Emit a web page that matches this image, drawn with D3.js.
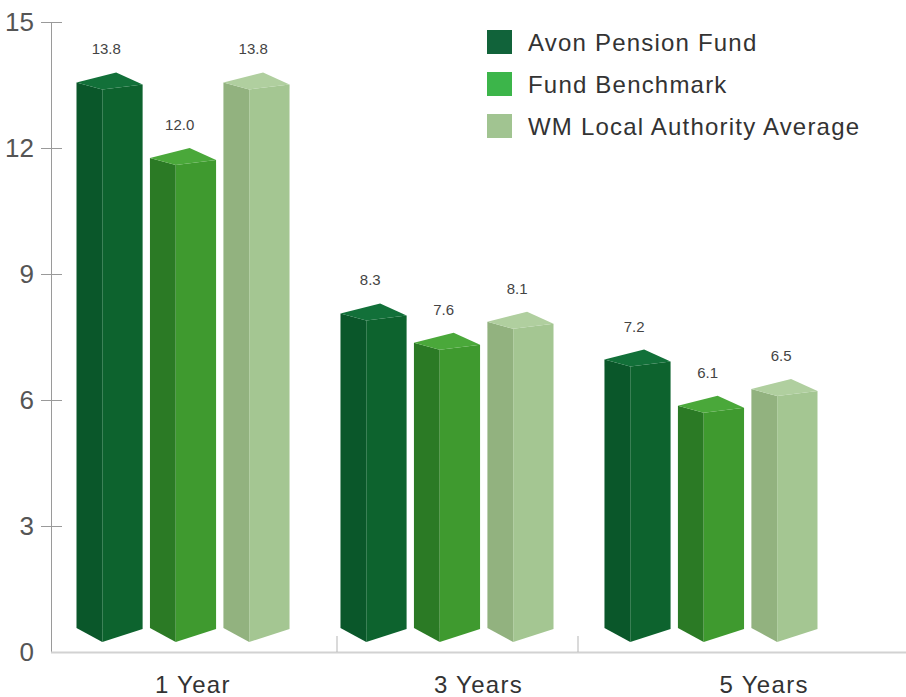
<!DOCTYPE html>
<html>
<head>
<meta charset="utf-8">
<script src="https://cdn.jsdelivr.net/npm/d3@7"></script>
<style>
  body { margin: 0; background: #fff; }
  text { font-family: "Liberation Sans", Arial, sans-serif; }
</style>
</head>
<body>
<div id="chart"></div>
<script>
var svgWidth = 906;
var svgHeight = 697;

// data
var periods = ["1 Year", "3 Years", "5 Years"];
var seriesNames = ["Avon Pension Fund", "Fund Benchmark", "WM Local Authority Average"];
var avonValues = [13.8, 8.3, 7.2];
var benchmarkValues = [12.0, 7.6, 6.1];
var wmValues = [13.8, 8.1, 6.5];
var yTicks = [0, 3, 6, 9, 12, 15];

var seriesValues = [avonValues, benchmarkValues, wmValues];

// face colours per series: left face, right face, top
var legendColors = ["#11633a", "#3cb54a", "#a1c491"];
var leftColors = ["#0a572a", "#2b7a25", "#92b27f"];
var rightColors = ["#0d632e", "#3f9a2f", "#a4c692"];
var topColors = ["#127039", "#4aa83a", "#b0cf9f"];

var svg = d3.select("#chart")
  .append("svg")
  .attr("width", svgWidth)
  .attr("height", svgHeight);

var yScale = d3.scaleLinear()
  .domain([0, 15])
  .range([652, 22]);

var xGroup = d3.scaleBand()
  .domain(periods)
  .range([51, 843])
  .paddingInner(0.193)
  .paddingOuter(0.0966);

var xSeries = d3.scaleBand()
  .domain(d3.range(seriesNames.length))
  .range([0, xGroup.bandwidth()])
  .paddingInner(0.1)
  .paddingOuter(0);

// category labels and separators sit on their own scales (perspective shift)
var xLabel = d3.scaleBand()
  .domain(periods)
  .range([50, 907]);

var xSep = d3.scaleBand()
  .domain(periods)
  .range([96, 819]);

// y axis
var leftAxis = d3.axisLeft(yScale)
  .tickValues(yTicks)
  .tickSize(0)
  .tickPadding(17);

var yAxis = svg.append("g")
  .attr("transform", "translate(51,0)")
  .call(leftAxis);

yAxis.select(".domain").attr("stroke", "#9a9a9a");
yAxis.selectAll(".tick text")
  .attr("font-size", 26)
  .attr("fill", "#555")
  .attr("font-family", "Liberation Sans, Arial, sans-serif");

yAxis.selectAll(".tick")
  .filter(d => d > 0)
  .append("line")
  .attr("x1", -10)
  .attr("x2", 11)
  .attr("stroke", "#9a9a9a");

// x axis line
svg.append("line")
  .attr("x1", 51)
  .attr("x2", svgWidth)
  .attr("y1", yScale(0) + 0.5)
  .attr("y2", yScale(0) + 0.5)
  .attr("stroke", "#d2d2d2")
  .attr("stroke-width", 2);

// separators between categories
svg.selectAll(".sep")
  .data(periods.slice(1))
  .enter()
  .append("line")
  .attr("class", "sep")
  .attr("x1", d => xSep(d))
  .attr("x2", d => xSep(d))
  .attr("y1", yScale(0) - 16)
  .attr("y2", yScale(0))
  .attr("stroke", "#b5b5b5");

// category labels
svg.selectAll(".cat")
  .data(periods)
  .enter()
  .append("text")
  .attr("class", "cat")
  .attr("x", d => xLabel(d) + xLabel.bandwidth() / 2)
  .attr("y", 693)
  .attr("text-anchor", "middle")
  .attr("font-size", 24)
  .attr("letter-spacing", 1.3)
  .attr("fill", "#333")
  .text(d => d);

// bars
var bars = [];
periods.forEach(function(p, i) {
  seriesValues.forEach(function(vals, s) {
    bars.push({ period: p, series: s, value: vals[i] });
  });
});

var w = xSeries.bandwidth();
var y0 = yScale(0);

var barGroup = svg.selectAll(".bar")
  .data(bars)
  .enter()
  .append("g")
  .attr("class", "bar")
  .attr("transform", d => `translate(${xGroup(d.period) + xSeries(d.series)},0)`);

function leftFace(d) {
  var yt = yScale(d.value);
  var xf = w * 0.39;
  return [[0, yt + 10], [xf, yt + 17], [xf, y0 - 10], [0, y0 - 24]];
}
function rightFace(d) {
  var yt = yScale(d.value);
  var xf = w * 0.39;
  return [[xf, yt + 17], [w, yt + 12], [w, y0 - 23], [xf, y0 - 10]];
}
function topFace(d) {
  var yt = yScale(d.value);
  return [[0, yt + 10], [w * 0.6, yt], [w, yt + 12], [w * 0.39, yt + 17]];
}

var line = d3.line();

barGroup.append("path")
  .attr("d", d => line(leftFace(d)) + "Z")
  .attr("fill", d => leftColors[d.series]);

barGroup.append("path")
  .attr("d", d => line(rightFace(d)) + "Z")
  .attr("fill", d => rightColors[d.series]);

barGroup.append("path")
  .attr("d", d => line(topFace(d)) + "Z")
  .attr("fill", d => topColors[d.series]);

// value labels
barGroup.append("text")
  .attr("x", w * 0.45)
  .attr("y", d => yScale(d.value) - 18)
  .attr("text-anchor", "middle")
  .attr("font-size", 15)
  .attr("fill", "#444")
  .text(d => d.value.toFixed(1));

// legend
var legend = svg.selectAll(".legend")
  .data(seriesNames)
  .enter()
  .append("g")
  .attr("class", "legend")
  .attr("transform", (d, i) => `translate(487,${30 + i * 42})`);

legend.append("rect")
  .attr("width", 25)
  .attr("height", 24)
  .attr("fill", (d, i) => legendColors[i]);

legend.append("text")
  .attr("x", 41)
  .attr("y", 21)
  .attr("font-size", 24)
  .attr("letter-spacing", 1.2)
  .attr("fill", "#333")
  .text(d => d);
</script>
</body>
</html>
